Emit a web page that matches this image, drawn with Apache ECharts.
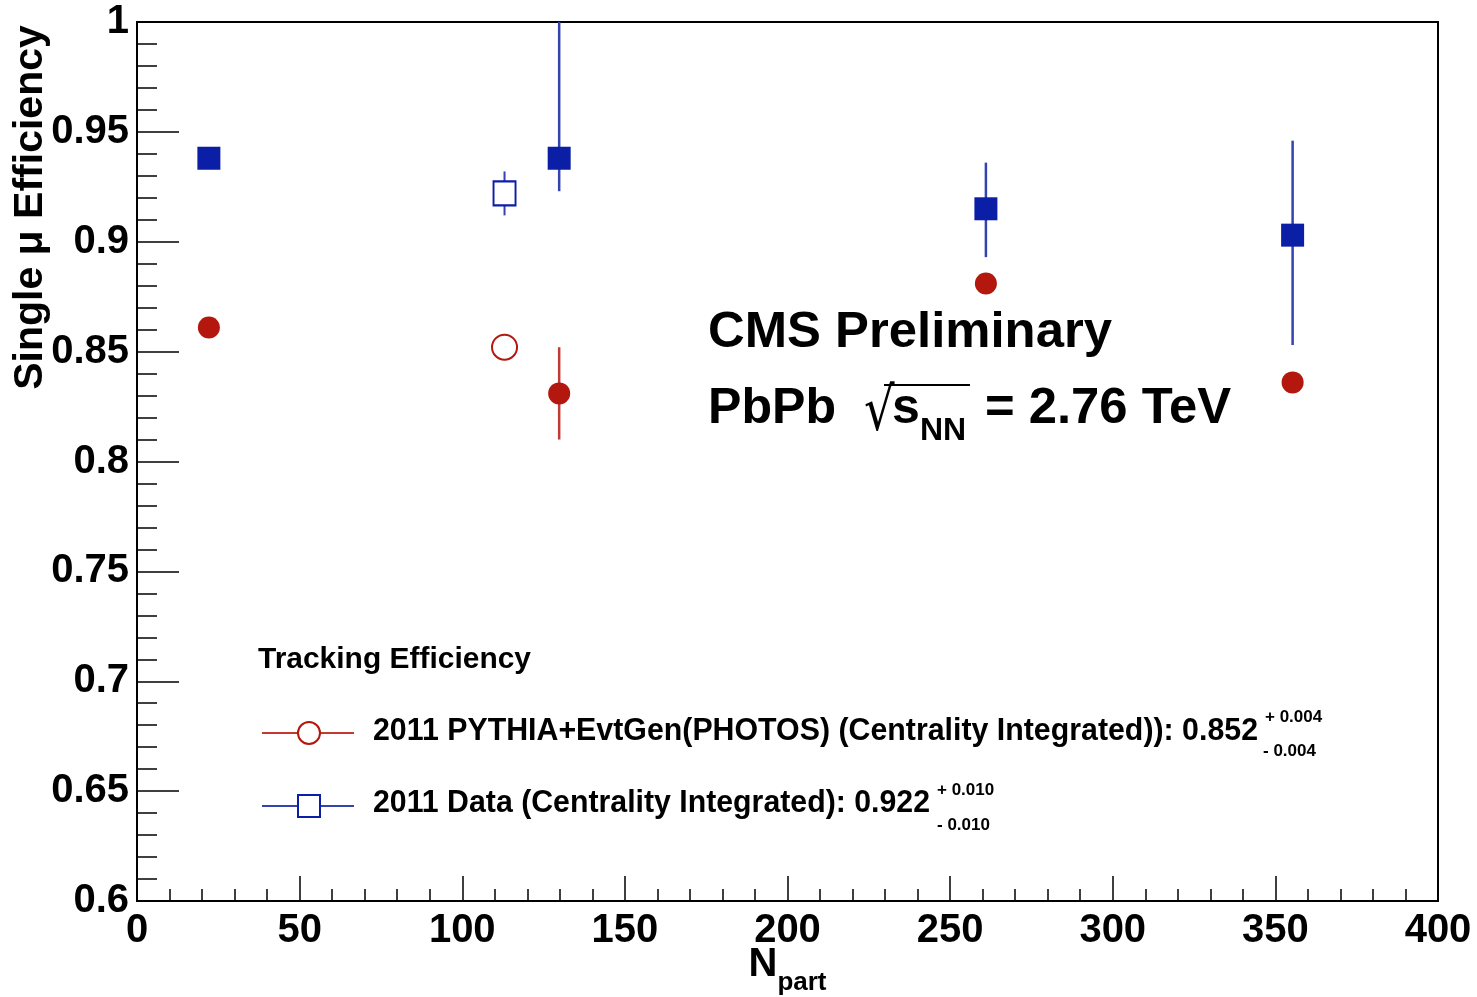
<!DOCTYPE html>
<html>
<head>
<meta charset="utf-8">
<script src="https://cdn.jsdelivr.net/npm/echarts@6/dist/echarts.min.js"></script>
<style>
html,body{margin:0;padding:0;background:#fff;}
#chart{width:1477px;height:997px;}
</style>
</head>
<body>
<div id="chart"></div>
<script>
// ---- data ----
const npartBins = [22.1, 129.8, 261.0, 355.3];
const dataEff = [0.938, 0.938, 0.915, 0.903];
const dataErrLow = [0.002, 0.015, 0.022, 0.050];
const dataErrHigh = [0.002, 0.062, 0.021, 0.043];
const mcEff = [0.861, 0.831, 0.881, 0.836];
const mcErr = [0.002, 0.021, 0.003, 0.002];
const npartIntegrated = [113.0];
const dataIntEff = [0.922];
const dataIntErr = [0.010];
const mcIntEff = [0.852];
const mcIntErr = [0.004];
const xTicks = [0, 50, 100, 150, 200, 250, 300, 350, 400];
const yTicks = [0.6, 0.65, 0.7, 0.75, 0.8, 0.85, 0.9, 0.95, 1];

const BLUE = '#0b1ea6';
const BLUE_ERR = '#3343b0';
const RED = '#b3170d';
const RED_ERR = '#c23a32';
const FONT = '"Liberation Sans", Arial, Helvetica, sans-serif';

const ctx2d = document.createElement('canvas').getContext('2d');
function fit(text, size, target) {
  ctx2d.font = 'bold ' + size + 'px ' + FONT;
  return target / ctx2d.measureText(text).width;
}

function errData(xs, ys, lo, hi) {
  return xs.map((x, i) => [x, ys[i] - lo[i], ys[i] + hi[i]]);
}
function errSeries(data, color, width) {
  return {
    type: 'custom',
    data: data,
    clip: true,
    z: 2,
    silent: true,
    encode: { x: 0, y: [1, 2] },
    renderItem: function (params, api) {
      const a = api.coord([api.value(0), api.value(1)]);
      const b = api.coord([api.value(0), api.value(2)]);
      return {
        type: 'line',
        shape: { x1: a[0], y1: a[1], x2: b[0], y2: b[1] },
        style: { stroke: color, lineWidth: width }
      };
    }
  };
}
function pts(xs, ys) { return xs.map((x, i) => [x, ys[i]]); }

const chart = echarts.init(document.getElementById('chart'), null, { renderer: 'canvas' });

const textStyle = { fontFamily: FONT, fontWeight: 'bold', color: '#000' };

const legendRow1 = '2011 PYTHIA+EvtGen(PHOTOS) (Centrality Integrated)): 0.852';
const legendRow2 = '2011 Data (Centrality Integrated): 0.922';

const option = {
  backgroundColor: '#fff',
  animation: false,
  grid: {
    left: 137, top: 22, right: 39, bottom: 96,
    outerBoundsMode: 'none',
    containLabel: false,
    show: true, borderColor: '#000', borderWidth: 2, backgroundColor: '#fff'
  },
  xAxis: {
    type: 'value', min: xTicks[0], max: xTicks[xTicks.length - 1], interval: 50,
    name: '{n|N}{s|part}',
    nameLocation: 'middle', nameGap: 44, nameMoveOverlap: false,
    nameTextStyle: {
      rich: {
        n: { fontFamily: FONT, fontWeight: 'bold', fontSize: 40, color: '#000', verticalAlign: 'top', lineHeight: 40 },
        s: { fontFamily: FONT, fontWeight: 'bold', fontSize: 26, color: '#000', verticalAlign: 'top', lineHeight: 26, padding: [25, 0, 0, 0] }
      }
    },
    axisLine: { show: true, lineStyle: { color: '#000', width: 2 } },
    axisTick: { show: true, inside: true, length: 25, lineStyle: { color: '#000', width: 1.5 } },
    minorTick: { show: true, splitNumber: 5, length: 12, lineStyle: { color: '#000', width: 1.5 } },
    splitLine: { show: false },
    axisLabel: { ...textStyle, fontSize: 40, margin: 10, formatter: v => String(Math.round(v)) }
  },
  yAxis: {
    type: 'value', min: yTicks[0], max: yTicks[yTicks.length - 1], interval: 0.05,
    name: 'Single μ Efficiency',
    nameLocation: 'middle', nameRotate: 90, nameGap: 86, nameMoveOverlap: false,
    nameTextStyle: { ...textStyle, fontSize: 41, padding: [0, 0, 0, 508] },
    axisLine: { show: true, lineStyle: { color: '#000', width: 2 } },
    axisTick: { show: true, inside: true, length: 42, lineStyle: { color: '#000', width: 1.5 } },
    minorTick: { show: true, splitNumber: 5, length: 20, lineStyle: { color: '#000', width: 1.5 } },
    splitLine: { show: false },
    axisLabel: { ...textStyle, fontSize: 40, margin: 8, formatter: v => String(Math.round(v * 100) / 100) }
  },
  series: [
    errSeries(errData(npartBins, dataEff, dataErrLow, dataErrHigh), BLUE_ERR, 2.5),
    errSeries(errData(npartBins, mcEff, mcErr, mcErr), RED_ERR, 2.5),
    errSeries(errData(npartIntegrated, dataIntEff, dataIntErr, dataIntErr), BLUE_ERR, 2),
    errSeries(errData(npartIntegrated, mcIntEff, mcIntErr, mcIntErr), RED_ERR, 2),
    {
      name: 'Data (binned)', type: 'scatter', z: 5, data: pts(npartBins, dataEff),
      symbol: 'rect', symbolSize: 23, itemStyle: { color: BLUE, opacity: 1 }
    },
    {
      name: 'MC (binned)', type: 'scatter', z: 5, data: pts(npartBins, mcEff),
      symbol: 'circle', symbolSize: 22, itemStyle: { color: RED, opacity: 1 }
    },
    {
      name: legendRow2, type: 'scatter', z: 5, data: pts(npartIntegrated, dataIntEff),
      symbol: 'rect', symbolSize: [22, 24],
      itemStyle: { color: '#fff', borderColor: BLUE, borderWidth: 2, opacity: 1 }
    },
    {
      name: legendRow1, type: 'scatter', z: 5, data: pts(npartIntegrated, mcIntEff),
      symbol: 'circle', symbolSize: 25,
      itemStyle: { color: '#fff', borderColor: RED, borderWidth: 2, opacity: 1 }
    }
  ],
  graphic: [
    // CMS label
    { type: 'text', x: 708, y: 333, scaleX: fit('CMS Preliminary', 50, 404),
      style: { text: 'CMS Preliminary', font: 'bold 50px ' + FONT, fill: '#000', align: 'left', verticalAlign: 'middle' } },
    { type: 'text', x: 708, y: 409, scaleX: fit('PbPb', 50, 128),
      style: { text: 'PbPb', font: 'bold 50px ' + FONT, fill: '#000', align: 'left', verticalAlign: 'middle' } },
    { type: 'text', x: 864, y: 414, scaleX: 0.8,
      style: { text: '√', font: '60px "DejaVu Sans", sans-serif', fill: '#000', align: 'left', verticalAlign: 'middle' } },
    { type: 'line', shape: { x1: 884, y1: 385, x2: 970, y2: 385 }, style: { stroke: '#000', lineWidth: 2 } },
    { type: 'text', x: 892, y: 409,
      style: { text: 's', font: 'bold 50px ' + FONT, fill: '#000', align: 'left', verticalAlign: 'middle' } },
    { type: 'text', x: 920, y: 431,
      style: { text: 'NN', font: 'bold 32px ' + FONT, fill: '#000', align: 'left', verticalAlign: 'middle' } },
    { type: 'text', x: 985, y: 409, scaleX: fit('= 2.76 TeV', 50, 246),
      style: { text: '= 2.76 TeV', font: 'bold 50px ' + FONT, fill: '#000', align: 'left', verticalAlign: 'middle' } },

    // legend
    { type: 'text', x: 258, y: 660, scaleX: fit('Tracking Efficiency', 30, 273),
      style: { text: 'Tracking Efficiency', font: 'bold 30px ' + FONT, fill: '#000', align: 'left', verticalAlign: 'middle' } },

    { type: 'line', shape: { x1: 262, y1: 733, x2: 354, y2: 733 }, style: { stroke: RED_ERR, lineWidth: 2 } },
    { type: 'circle', shape: { cx: 309, cy: 733, r: 11 }, style: { fill: '#fff', stroke: RED, lineWidth: 2 } },
    { type: 'text', x: 373, y: 731, scaleX: fit(legendRow1, 32, 885),
      style: { text: legendRow1, font: 'bold 32px ' + FONT, fill: '#000', align: 'left', verticalAlign: 'middle' } },
    { type: 'text', x: 1265, y: 717,
      style: { text: '+ 0.004', font: 'bold 17px ' + FONT, fill: '#000', align: 'left', verticalAlign: 'middle' } },
    { type: 'text', x: 1263, y: 751,
      style: { text: '- 0.004', font: 'bold 17px ' + FONT, fill: '#000', align: 'left', verticalAlign: 'middle' } },

    { type: 'line', shape: { x1: 262, y1: 806, x2: 354, y2: 806 }, style: { stroke: BLUE_ERR, lineWidth: 2 } },
    { type: 'rect', shape: { x: 298, y: 795, width: 22, height: 22 }, style: { fill: '#fff', stroke: BLUE, lineWidth: 2 } },
    { type: 'text', x: 373, y: 803, scaleX: fit(legendRow2, 32, 557),
      style: { text: legendRow2, font: 'bold 32px ' + FONT, fill: '#000', align: 'left', verticalAlign: 'middle' } },
    { type: 'text', x: 937, y: 790,
      style: { text: '+ 0.010', font: 'bold 17px ' + FONT, fill: '#000', align: 'left', verticalAlign: 'middle' } },
    { type: 'text', x: 937, y: 825,
      style: { text: '- 0.010', font: 'bold 17px ' + FONT, fill: '#000', align: 'left', verticalAlign: 'middle' } }
  ]
};
chart.setOption(option);
</script>
</body>
</html>
